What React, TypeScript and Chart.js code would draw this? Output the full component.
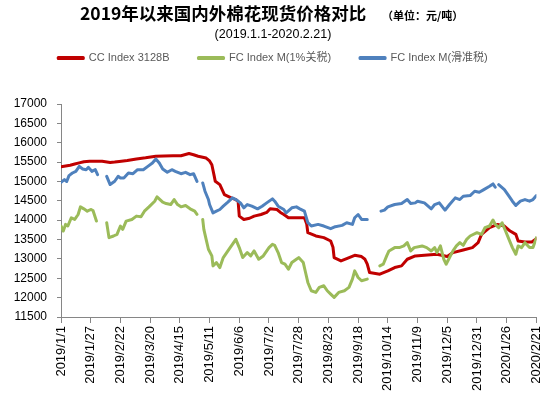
import React, { useEffect, useRef } from 'react';
import { Chart, registerables } from 'chart.js';

Chart.register(...registerables);

// X axis: days since 2019/1/1, tick every 26 days
const xTickLabels = [
  '2019/1/1', '2019/1/27', '2019/2/22', '2019/3/20', '2019/4/15', '2019/5/11',
  '2019/6/6', '2019/7/2', '2019/7/28', '2019/8/23', '2019/9/18', '2019/10/14',
  '2019/11/9', '2019/12/5', '2019/12/31', '2020/1/26', '2020/2/21',
];
const tickStepDays = 26;
const lastDay = 416;

const seriesLabels = ['CC Index 3128B', 'FC Index M(1%关税)', 'FC Index M(滑准税)'];

// CC Index 3128B
const ccDays = [0, 4, 8, 12, 16, 20, 25, 30, 36, 43, 47, 51, 58, 66, 74, 83, 90, 98, 105, 112,
  116, 120, 127, 130, 132, 134, 135, 139, 143, 149, 153, 155, 156, 160, 165, 169, 175, 180, 183, 189,
  192, 195, 199, 207, 213, 215, 216, 223, 230, 236, 238, 239, 245, 250, 257, 263, 266, 268, 270, 279,
  286, 292, 298, 303, 310, 318, 329, 338, 343, 352, 360, 365, 368, 375, 382, 388, 393, 398, 400, 406,
  412, 416];
const ccValues = [15380, 15400, 15420, 15450, 15480, 15510, 15520, 15520, 15520, 15490, 15500, 15517, 15540, 15580, 15610, 15650, 15660, 15665, 15665, 15720,
  15690, 15650, 15605, 15530, 15430, 15150, 15003, 14918, 14660, 14577, 14533, 14480, 14104, 14019, 14050, 14104, 14147, 14200, 14294, 14276,
  14200, 14147, 14062, 14062, 14062, 13900, 13677, 13592, 13549, 13463, 13300, 13035, 12949, 13010, 13094, 13060, 12990, 12863, 12649, 12606,
  12691, 12777, 12820, 12991, 13077, 13094, 13120, 13060, 13163, 13232, 13292, 13420, 13634, 13806, 13891, 13848, 13720, 13634, 13463, 13437,
  13437, 13523];

// FC Index M (1% tariff)
const fc1Days = [0, 2, 4, 6, 9, 12, 15, 17, 20, 23, 26, 28, 31, 35,
  40, 42, 46, 49, 52, 54, 57, 62, 66, 70, 73, 77, 82, 84, 89, 92, 96, 99, 102, 105, 109, 113, 117, 119, 121,
  124, 125, 127, 129, 132, 133, 136, 139, 142, 145, 148, 150, 153, 156, 159, 163, 166, 169, 173, 177,
  182, 185, 187, 190, 193, 196, 199, 202, 206, 208, 212, 214, 216, 219, 223, 226, 230, 233, 236, 239,
  243, 248, 252, 255, 257, 260, 263, 268, 273,
  279, 282, 285, 287, 292, 296, 300, 303, 306, 309, 316, 320, 324, 327, 329, 332, 335, 337, 340, 343,
  346, 349, 352, 355, 358, 364, 368, 371, 375, 378, 380, 383, 386, 389, 392, 395, 398, 400, 403, 406,
  410, 413, 415, 416];
const fc1Values = [13850, 13720, 13891, 13850, 14062, 14019, 14147, 14344, 14293, 14233, 14276, 14250, 13977, null,
  13935, 13549, 13592, 13635, 13849, 13763, 13977, 14019, 14105, 14088, 14233, 14344, 14490, 14602, 14465, 14430, 14404, 14533, 14404, 14344, 14378, 14293, 14233, 14150, null,
  14019, 13763, 13506, 13249, 13077, 12820, 12906, 12777, 13035, 13163, 13292, 13377, 13506, 13292, 13035, 13163, 13077, 13206, 12991, 13077,
  13292, 13377, 13350, 13163, 12906, 12863, 12734, 12906, 12991, 13034, 12906, 12649, 12392, 12178, 12135, 12264, 12306, 12178, 12092, 12007,
  12135, 12178, 12264, 12478, 12691, 12520, 12435, 12478, null,
  12820, 12863, 13077, 13206, 13292, 13292, 13335, 13420, 13206, 13292, 13335, 13292, 13206, 13292, 13163, 13335, 12991, 12863, 13035, 13206,
  13335, 13420, 13351, 13506, 13592, 13678, 13634, 13806, 13849, 14003, 13891, 13806, 13934, 13720, 13506, 13292, 13120, 13335, 13292, 13420,
  13292, 13292, 13463, 13549];

// FC Index M (sliding-scale tariff)
const fcsDays = [0, 3, 5, 7, 10, 13, 16, 19, 22, 24, 27, 30, 32, 36,
  40, 43, 47, 50, 52, 55, 59, 63, 67, 72, 76, 80, 83, 86, 89, 93, 97, 100, 105, 109, 113, 116, 119, 121,
  124, 126, 129, 130, 133, 136, 139, 142, 146, 150, 153, 157, 160, 163, 167, 172, 176, 180, 185, 187,
  190, 195, 197, 202, 206, 209, 213, 216, 219, 225, 230, 236, 240, 246, 250, 255, 257, 260, 263, 268, 274,
  280, 283, 286, 292, 298, 303, 306, 310, 312, 318, 324, 327, 331, 336, 340, 345, 349, 352, 358, 362,
  366, 370, 375, 378, 380, 381,
  383, 388, 392, 395, 398, 402, 406, 410, 413, 416];
const fcsValues = [14977, 15047, 15000, 15150, 15218, 15261, 15390, 15322, 15304, 15364, 15261, 15304, 15175, null,
  15133, 14920, 15005, 15133, 15090, 15090, 15218, 15200, 15304, 15304, 15390, 15476, 15580, 15476, 15322, 15237, 15304, 15261, 15200, 15235, 15175, 15200, 15000, null,
  14962, 14748, 14533, 14404, 14190, 14233, 14276, 14361, 14464, 14576, 14533, 14447, 14319, 14404, 14361, 14293, 14361, 14447, 14550, 14490,
  14361, 14276, 14190, 14319, 14344, 14293, 14233, 13935, 13849, 13891, 13849, 13780, 13832, 13866, 13934, 13891, 14062, 14147, 14019, 14019, null,
  14233, 14260, 14344, 14404, 14430, 14533, 14430, 14447, 14490, 14447, 14293, 14404, 14447, 14258, 14404, 14576, 14533, 14619, 14636, 14747,
  14722, 14790, 14876, 14936, 14850, null,
  14918, 14790, 14619, 14490, 14380, 14490, 14533, 14490, 14533, 14636];

const yMin = 11500;
const yMax = 17000;
const yStep = 500;

const RED = '#C00000';
const GREEN = '#9BBB59';
const BLUE = '#4F81BD';
const AXIS = '#868686';
const LATIN = '"Liberation Sans", "Noto Sans CJK SC", sans-serif';

function toPoints(days: number[], values: (number | null)[]) {
  return days.map((d, i) => ({ x: d, y: values[i] }));
}

export default function App() {
  const canvasRef = useRef<HTMLCanvasElement>(null);

  useEffect(() => {
    const canvas = canvasRef.current;
    if (!canvas) return;
    const chart = new Chart(canvas, {
      type: 'line',
      data: {
        datasets: [
          { label: seriesLabels[0], data: toPoints(ccDays, ccValues), borderColor: RED, backgroundColor: RED, order: 3 },
          { label: seriesLabels[1], data: toPoints(fc1Days, fc1Values), borderColor: GREEN, backgroundColor: GREEN, order: 2 },
          { label: seriesLabels[2], data: toPoints(fcsDays, fcsValues), borderColor: BLUE, backgroundColor: BLUE, order: 1 },
        ],
      },
      options: {
        responsive: false,
        animation: false,
        devicePixelRatio: 1,
        spanGaps: false,
        elements: {
          point: { radius: 0, hoverRadius: 0 },
          line: { borderWidth: 3, tension: 0, borderJoinStyle: 'round', borderCapStyle: 'round' },
        },
        layout: { padding: { top: 23.5, left: 0, right: 9, bottom: 0 } },
        plugins: {
          tooltip: { enabled: false },
          legend: {
            display: true,
            position: 'top',
            labels: {
              boxWidth: 25,
              boxHeight: 1,
              padding: 29,
              color: '#595959',
              font: { family: LATIN, size: 11 },
              sort: (a: any, b: any) => a.datasetIndex - b.datasetIndex,
            },
          },
          subtitle: {
            display: true,
            text: '',
            weight: 500,
            padding: { top: 0, bottom: 29.5 },
            font: { size: 1, lineHeight: 1 },
          },
        },
        scales: {
          x: {
            type: 'linear',
            min: 0,
            max: lastDay,
            afterFit: (s: any) => { s.height = 81; },
            ticks: {
              stepSize: tickStepDays,
              autoSkip: false,
              maxRotation: 90,
              minRotation: 90,
              padding: 3,
              color: '#000',
              font: { family: LATIN, size: 13 },
              callback: (v: any) => xTickLabels[Math.round(Number(v) / tickStepDays)] ?? '',
            },
            grid: { drawOnChartArea: false, tickLength: 6, color: AXIS },
            border: { display: true, color: AXIS },
          },
          y: {
            min: yMin,
            max: yMax,
            afterFit: (s: any) => { s.width = 61; },
            ticks: {
              stepSize: yStep,
              padding: 10,
              color: '#000',
              font: { family: LATIN, size: 12 },
              callback: (v: any) => String(v),
            },
            grid: { drawOnChartArea: false, tickLength: 4, color: AXIS },
            border: { display: true, color: AXIS },
          },
        },
      },
    });
    return () => chart.destroy();
  }, []);

  return (
    <div style={{ position: 'fixed', left: 0, top: 0, width: 555, height: 398, background: '#fff', overflow: 'hidden' }}>
      <canvas ref={canvasRef} width={555} height={398} style={{ position: 'absolute', left: 0, top: 0 }} />
      <div style={{ position: 'absolute', left: 80, top: 3, fontFamily: '"Noto Sans CJK SC", sans-serif', fontWeight: 700, fontSize: 17.5, lineHeight: '20px', color: '#000', whiteSpace: 'nowrap' }}>
        2019年以来国内外棉花现货价格对比
      </div>
      <div style={{ position: 'absolute', left: 382, top: 8, fontFamily: '"Noto Sans CJK SC", sans-serif', fontWeight: 700, fontSize: 11, lineHeight: '14px', color: '#000', whiteSpace: 'nowrap' }}>
        （单位：元/吨）
      </div>
      <div style={{ position: 'absolute', left: 0, top: 26, width: 546, textAlign: 'center', fontFamily: LATIN, fontSize: 12.5, lineHeight: '16px', color: '#000', whiteSpace: 'nowrap' }}>
        (2019.1.1-2020.2.21)
      </div>
    </div>
  );
}
